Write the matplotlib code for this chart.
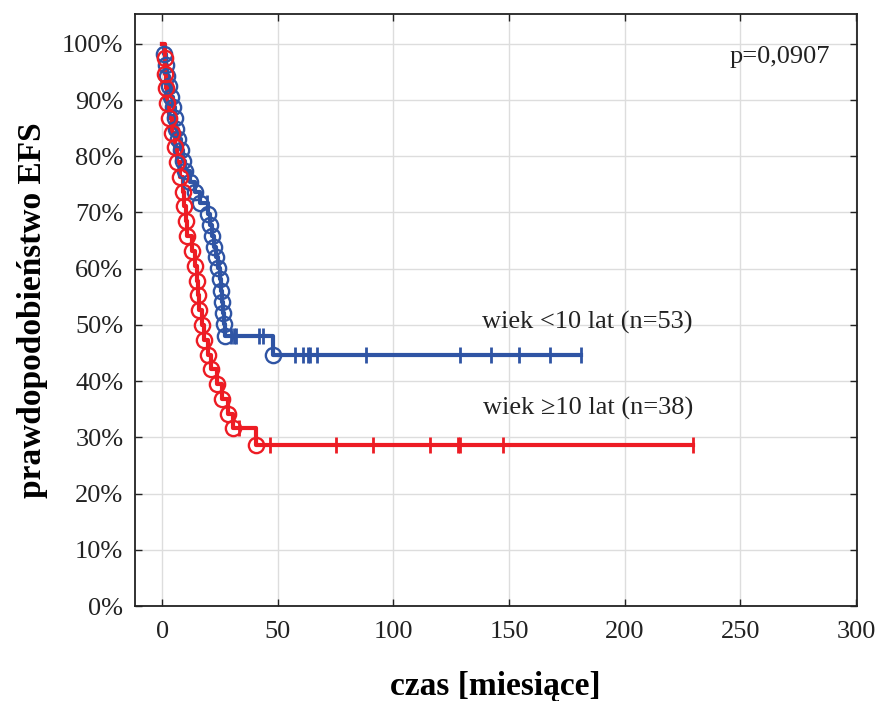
import matplotlib
matplotlib.use('Agg')
import matplotlib.pyplot as plt

plt.rcParams['font.family'] = ['Liberation Serif', 'DejaVu Serif']

# wiek <10 lat (n=53): event times [months] and survival after each event
young_t = [0.8, 1.5, 2.2, 3.0, 3.8, 4.5, 5.3, 6.0, 7.0, 8.0, 8.8, 10.0, 12.0, 14.0, 16.5,
           20.0, 20.8, 21.5, 22.3, 23.2, 24.0,
           24.9, 25.3, 25.8, 26.2, 26.6, 27.0,
           47.7]
young_s = [0.981, 0.962, 0.943, 0.925, 0.906, 0.887, 0.868, 0.849, 0.830, 0.811, 0.792,
           0.774, 0.755, 0.736, 0.717,
           0.698, 0.678, 0.659, 0.639, 0.620, 0.601,
           0.581, 0.561, 0.541, 0.521, 0.501, 0.481,
           0.447]
young_cens = [19.5, 24.7, 29.7, 31.2, 32.0, 42.0, 43.4, 57.6, 60.7, 63.1, 63.9, 67.1,
              88.2, 128.9, 142.3, 154.5, 167.5, 181.2]

# wiek >=10 lat (n=38)
old_t = [1.0, 1.3, 1.7, 2.2, 3.0, 4.3, 5.5, 6.5, 7.8, 9.0, 9.5, 10.4, 10.8, 13.0, 14.3,
         15.2, 15.6, 16.0, 17.0, 18.2, 20.0, 21.3, 23.5, 26.0, 28.5, 30.7, 40.5]
old_s = [0.974, 0.947, 0.921, 0.895, 0.868, 0.842, 0.816, 0.789, 0.763, 0.737, 0.711,
         0.684, 0.658, 0.632, 0.605, 0.579, 0.553, 0.526, 0.500, 0.474, 0.447, 0.421,
         0.395, 0.368, 0.342, 0.316, 0.287]
old_cens = [33.3, 46.6, 75.2, 91.0, 115.9, 128.0, 128.9, 147.3, 229.6]

blue = '#2f54a4'
red = '#ed1c24'


def level_at(times, surv, t):
    s = 1.0
    for ti, si in zip(times, surv):
        if ti <= t:
            s = si
    return s


def km(ax, times, surv, cens, col):
    xs = [0] + times + [max(cens)]
    ys = [1.0] + surv + [surv[-1]]
    ax.step(xs, ys, where='post', color=col, lw=3, zorder=3)
    ax.plot(times, surv, 'o', mfc='none', mec=col, ms=11, mew=1.7, zorder=4)
    cy = [level_at(times, surv, c) for c in cens]
    ax.plot(cens, cy, '|', color=col, ms=11, mew=2, zorder=4)


fig = plt.figure(figsize=(8.82, 7.01), dpi=100)
ax = fig.add_axes([0.1525, 0.1355, 0.8192, 0.8445])

km(ax, young_t, young_s, young_cens, blue)
km(ax, old_t, old_s, old_cens, red)

ax.set_xlim(-12, 300.5)
ax.set_ylim(0, 1.053)
ax.set_xticks(range(0, 301, 50))
ax.set_yticks([i / 10 for i in range(11)])
ax.set_yticklabels([f'{i * 10}%' for i in range(11)])
ax.grid(True, color='#dddddd', lw=1, zorder=0)
ax.tick_params(direction='in', length=5, width=1, top=True, right=True,
               labelsize=19, colors='#222222')
ax.tick_params(axis='x', pad=11)
ax.tick_params(axis='y', pad=8)
for sp in ax.spines.values():
    sp.set_linewidth(1.3)
    sp.set_color('#222222')

ax.set_xlabel('czas [miesiące]', fontsize=24, fontweight='bold', labelpad=20)
ax.set_ylabel('prawdopodobieństwo EFS', fontsize=24, fontweight='bold', labelpad=10)

ax.text(289, 0.977, 'p=0,0907', ha='right', va='center', fontsize=19, color='#222222')
ax.text(229.5, 0.505, 'wiek <10 lat (n=53)', ha='right', va='center', fontsize=19,
        color='#222222')
ax.text(229.5, 0.352, 'wiek \u226510 lat (n=38)', ha='right', va='center', fontsize=19,
        color='#222222')

fig.savefig('out.png', dpi=100)
